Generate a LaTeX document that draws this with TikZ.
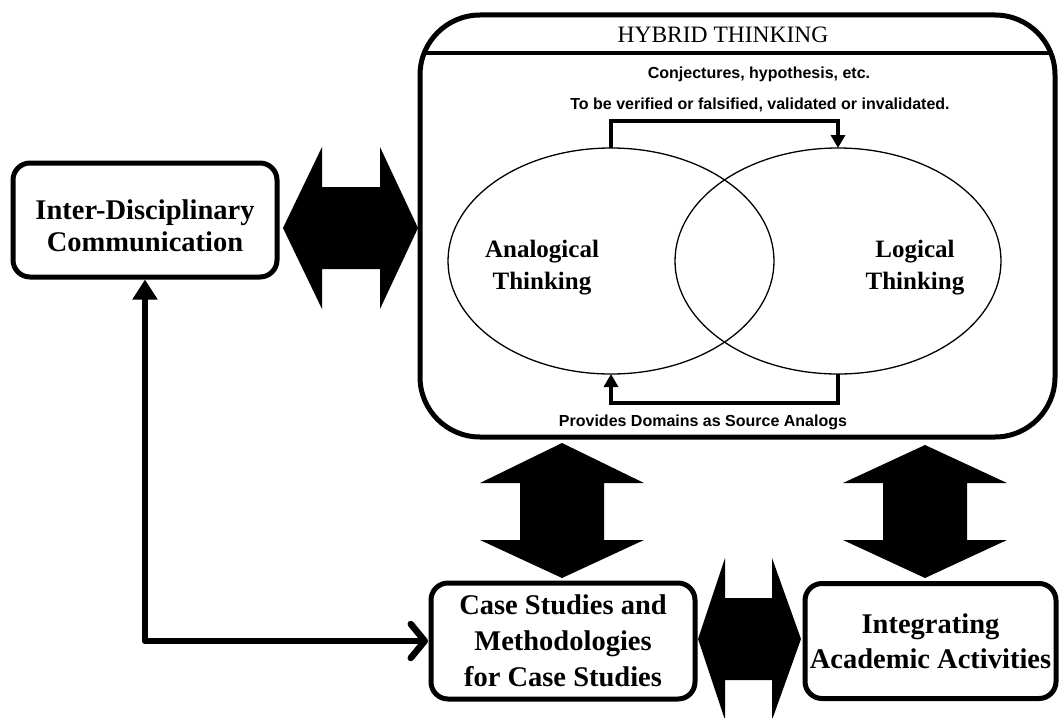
\documentclass[tikz,border=0pt]{standalone}
\usepackage{fontspec}
\setmainfont{Liberation Serif}
\setsansfont{Liberation Sans}
\usetikzlibrary{arrows.meta,shapes.geometric}
\begin{document}
\begin{tikzpicture}[x=1pt,y=-1pt,
  boxnode/.style={draw, line width=5pt, rounded corners=17pt, outer sep=0pt, inner sep=0pt},
  bigtext/.style={inner sep=0pt, align=center, font=\bfseries\fontsize{28.5}{#1}\selectfont},
  ovaltext/.style={inner sep=0pt, align=center, font=\bfseries\fontsize{25}{32}\selectfont},
  smalltext/.style={inner sep=0pt, anchor=base, font=\sffamily\bfseries\fontsize{16}{19}\selectfont},
  oval/.style={ellipse, draw, line width=1.3pt, minimum width=326pt, minimum height=226pt, inner sep=0pt, outer sep=0pt},
  bracket/.style={draw, line width=4pt, -{Triangle[width=14pt,length=13pt]}},
  bigarrow/.style={fill=black},
  conn/.style={draw, line width=6.5pt, line join=round,
    {Triangle[width=24pt,length=20pt]}-{Straight Barb[length=14pt,width=34pt,round]}}
]
\useasboundingbox (0,0) rectangle (1062,717);
\clip (0,0) rectangle (1062,717);

% boxes
\node[boxnode] (ic) at (145,220) [minimum width=264pt, minimum height=114pt] {};
\node[bigtext=31.7] (ictext) at (145,226) {Inter-Disciplinary\\Communication};

\node[boxnode, rounded corners=60pt, minimum width=635pt, minimum height=422pt] (hb) at (737.5,226) {};
\begin{scope}
  \clip[rounded corners=60pt] (hb.north west) rectangle (hb.south east);
  \coordinate (dv) at (0,53);
  \draw[line width=4.5pt] (hb.west |- dv) -- (hb.east |- dv);
\end{scope}
\node[inner sep=0pt, anchor=base, font=\fontsize{23.5}{26}\selectfont] (ht) at (723,42) {HYBRID THINKING};

\node[boxnode] (cs) at (563,641) [minimum width=264pt, minimum height=116pt] {};
\node[bigtext=36] (cstext) at (563,641) {Case Studies and\\Methodologies\\for Case Studies};

\node[boxnode] (ia) at (930.5,641) [minimum width=251pt, minimum height=115pt] {};
\node[bigtext=35] (iatext) at (930.5,641) {Integrating\\Academic Activities};

% inner texts
\node[smalltext] (cj) at (759,78) {Conjectures, hypothesis, etc.};
\node[smalltext] (vf) at (760,109) {To be verified or falsified, validated or invalidated.};
\node[smalltext] (pd) at (703,426) {Provides Domains as Source Analogs};

% ellipses
\node[oval] (L) at (611,261) {};
\node[oval] (R) at (838,261) {};
\node[ovaltext] (lt) at (542,268) {Analogical\\Thinking};
\node[ovaltext] (rt) at (915,268) {Logical\\Thinking};

% bracket arrows
\draw[bracket] (L.north) -- ++(0,-27) -| (R.north);
\draw[bracket] (R.south) -- ++(0,29) -| (L.south);

% left connector
\draw[conn] ([yshift=-2.5pt]ic.south) |- ([xshift=-3pt]cs.west);

% big double arrows
\fill[bigarrow] (283,228) -- (322,147) -- (322,187) -- (380,187) -- (380,147) -- (418,228)
  -- (380,309) -- (380,269) -- (322,269) -- (322,309) -- cycle;
\fill[bigarrow] (562,443) -- (644,483) -- (604,483) -- (604,540) -- (644,540) -- (562,578)
  -- (480,540) -- (520,540) -- (520,483) -- (480,483) -- cycle;
\fill[bigarrow] (925,445) -- (1007,483) -- (967,483) -- (967,540) -- (1007,540) -- (925,578)
  -- (843,540) -- (883,540) -- (883,483) -- (843,483) -- cycle;
\fill[bigarrow] (698,639) -- (725,558) -- (725,598) -- (772,598) -- (772,558) -- (801,639)
  -- (772,720) -- (772,680) -- (725,680) -- (725,720) -- cycle;
\end{tikzpicture}
\end{document}
